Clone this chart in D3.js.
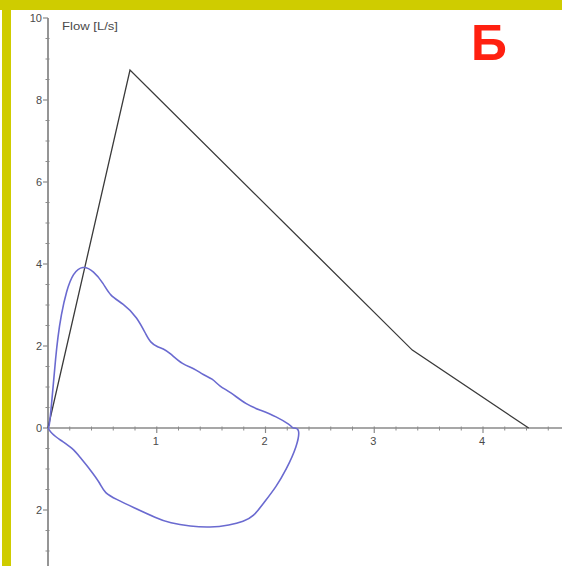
<!DOCTYPE html>
<html>
<head>
<meta charset="utf-8">
<script src="https://cdn.jsdelivr.net/npm/d3@7"></script>
<style>
  html, body { margin: 0; padding: 0; background: #fff; }
  svg { display: block; }
  text { font-family: "Liberation Sans", Arial, sans-serif; }
</style>
</head>
<body>
<svg id="chart" width="562" height="566"></svg>
<script>
// Predicted (reference) flow-volume triangle: volume [L], flow [L/s]
const predVolume = [0, 0.754, 3.35, 4.42];
const predFlow   = [0, 8.73, 1.90, 0];

// Measured expiratory limb
const expVolume = [0, 0.01, 0.03, 0.05, 0.07, 0.09, 0.12, 0.17, 0.23, 0.32, 0.42, 0.51, 0.57, 0.69, 0.82, 0.91, 0.94, 1.00, 1.06, 1.12, 1.24, 1.34, 1.43, 1.51, 1.58, 1.67, 1.83, 1.95, 2.10, 2.23, 2.25, 2.25];
const expFlow   = [0, 0, 0.50, 1.10, 1.70, 2.20, 2.75, 3.35, 3.78, 3.97, 3.83, 3.53, 3.22, 3.04, 2.71, 2.23, 2.10, 1.98, 1.94, 1.83, 1.54, 1.46, 1.29, 1.21, 1.01, 0.89, 0.56, 0.44, 0.28, 0.07, 0, 0];

// Measured inspiratory limb (negative flow)
const inspVolume = [2.25, 2.25, 2.32, 2.29, 2.19, 2.10, 1.98, 1.89, 1.80, 1.67, 1.49, 1.31, 1.12, 1.00, 0.78, 0.63, 0.52, 0.48, 0.39, 0.29, 0.23, 0.11, 0.03, 0, 0];
const inspFlow   = [0, 0, 0, -0.45, -1.02, -1.43, -1.84, -2.16, -2.28, -2.37, -2.43, -2.40, -2.32, -2.20, -1.93, -1.74, -1.59, -1.35, -1.02, -0.70, -0.50, -0.29, -0.13, 0, 0];

// Axis ticks
const xMajorTicks = [1, 2, 3, 4];
const xTickLabels = ["1", "2", "3", "4"];
const yMajorTicks = [-2, 0, 2, 4, 6, 8, 10];
const yTickLabels = ["2", "0", "2", "4", "6", "8", "10"];
const yAxisTitle = "Flow [L/s]";
const panelLetter = "Б";

const svg = d3.select("#chart");
const W = 562, H = 566;

const x = d3.scaleLinear().domain([0, 4]).range([48, 483]);
const y = d3.scaleLinear().domain([0, 10]).range([428, 18]);

// Frame bands
const frameColor = "#cfcc00";
svg.append("rect").attr("x", 0).attr("y", 0).attr("width", W).attr("height", 10).attr("fill", frameColor);
svg.append("rect").attr("x", 2).attr("y", 0).attr("width", 9).attr("height", H).attr("fill", frameColor);

const axisColor = "#8a8a8a";
const labelColor = "#4a4a4a";

// X axis
const xMinor = d3.range(0, 4.81, 0.2).filter(v => Math.abs(v - Math.round(v)) > 1e-6);
const gx = svg.append("g");
gx.append("line")
  .attr("x1", 47).attr("x2", W).attr("y1", y(0)).attr("y2", y(0))
  .attr("stroke", axisColor).attr("stroke-width", 1.6);
gx.selectAll("line.minor").data(xMinor).join("line")
  .attr("class", "minor")
  .attr("x1", d => x(d)).attr("x2", d => x(d))
  .attr("y1", y(0) - 1.5).attr("y2", y(0) + 2.5)
  .attr("stroke", axisColor).attr("stroke-width", 1);
gx.selectAll("line.major").data(xMajorTicks).join("line")
  .attr("class", "major")
  .attr("x1", d => x(d)).attr("x2", d => x(d))
  .attr("y1", y(0) - 1.5).attr("y2", y(0) + 5)
  .attr("stroke", axisColor).attr("stroke-width", 1.2);
gx.selectAll("text").data(xMajorTicks).join("text")
  .attr("x", d => x(d) - 1).attr("y", y(0) + 17)
  .attr("text-anchor", "middle")
  .attr("font-size", 11).attr("fill", labelColor)
  .text((d, i) => xTickLabels[i]);

// Y axis
const yMinor = d3.range(-3.5, 10.01, 0.5).filter(v => Math.abs(v / 2 - Math.round(v / 2)) > 1e-6);
const gy = svg.append("g");
gy.append("line")
  .attr("x1", x(0)).attr("x2", x(0)).attr("y1", y(10)).attr("y2", H)
  .attr("stroke", axisColor).attr("stroke-width", 1.8);
gy.selectAll("line.minor").data(yMinor).join("line")
  .attr("class", "minor")
  .attr("x1", x(0) - 2.5).attr("x2", x(0) + 1.5)
  .attr("y1", d => y(d)).attr("y2", d => y(d))
  .attr("stroke", axisColor).attr("stroke-width", 1);
gy.selectAll("line.major").data(yMajorTicks).join("line")
  .attr("class", "major")
  .attr("x1", x(0) - 5).attr("x2", x(0))
  .attr("y1", d => y(d)).attr("y2", d => y(d))
  .attr("stroke", axisColor).attr("stroke-width", 1.2);
gy.selectAll("text").data(yMajorTicks).join("text")
  .attr("x", x(0) - 6).attr("y", d => y(d) + 4)
  .attr("text-anchor", "end")
  .attr("font-size", 11).attr("fill", labelColor)
  .text((d, i) => yTickLabels[i]);

svg.append("text")
  .attr("x", 62).attr("y", 30)
  .attr("font-size", 11).attr("fill", labelColor)
  .attr("textLength", 56).attr("lengthAdjust", "spacingAndGlyphs")
  .text(yAxisTitle);

// Curves
const smooth = d3.line().x(d => x(d[0])).y(d => y(d[1])).curve(d3.curveBasis);
const straight = d3.line().x(d => x(d[0])).y(d => y(d[1]));

svg.append("path")
  .attr("d", straight(d3.zip(predVolume, predFlow)))
  .attr("fill", "none").attr("stroke", "#3a3a3a").attr("stroke-width", 1.3);

svg.append("path")
  .attr("d", smooth(d3.zip(expVolume, expFlow)))
  .attr("fill", "none").attr("stroke", "#6a6ad0").attr("stroke-width", 1.6);

svg.append("path")
  .attr("d", smooth(d3.zip(inspVolume, inspFlow)))
  .attr("fill", "none").attr("stroke", "#6a6ad0").attr("stroke-width", 1.6);

// Panel letter
svg.append("text")
  .attr("x", 489).attr("y", 60)
  .attr("text-anchor", "middle")
  .attr("font-size", 50).attr("font-weight", "bold")
  .attr("fill", "#ff2010")
  .text(panelLetter);
</script>
</body>
</html>
